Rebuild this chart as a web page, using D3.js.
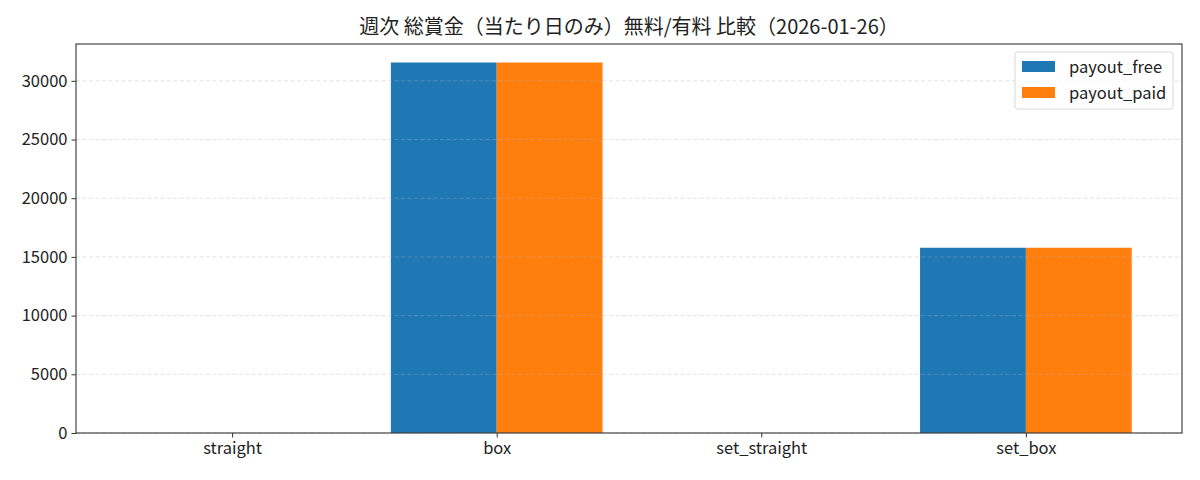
<!DOCTYPE html>
<html><head><meta charset="utf-8">
<script src="https://cdn.jsdelivr.net/npm/d3@7"></script>
<style>body{margin:0;background:#fff;} svg{display:block;font-family:"Noto Sans CJK JP","Noto Sans",sans-serif;}</style>
</head><body><div id="chart"></div>
<script>
const title = "週次 総賞金（当たり日のみ）無料/有料 比較（2026-01-26）";
const categories = ["straight","box","set_straight","set_box"];
const seriesNames = ["payout_free","payout_paid"];
const payoutFree = [0, 31560, 0, 15780];
const payoutPaid = [0, 31560, 0, 15780];
const yTicks = [0,5000,10000,15000,20000,25000,30000];
const colors = ["#1f77b4","#ff7f0e"];

const W=1200,H=480;
const m={left:76,right:1182,top:44,bottom:433};
const svg=d3.select("#chart").append("svg").attr("width",W).attr("height",H);
const series=[payoutFree,payoutPaid];
const maxV=d3.max(series.flat());
const x=d3.scaleLinear().domain([-0.59,categories.length-1+0.59]).range([m.left,m.right]);
const y=d3.scaleLinear().domain([0,maxV*1.05]).range([m.bottom,m.top]);
const bw=0.4;

// bars
series.forEach((s,si)=>{
  svg.append("g").selectAll("rect").data(s).join("rect")
    .attr("x",(d,i)=>x(i-bw+si*bw))
    .attr("width",x(bw)-x(0))
    .attr("y",d=>y(d))
    .attr("height",d=>y(0)-y(d))
    .attr("fill",colors[si]);
});
// grid
svg.append("g").selectAll("line").data(yTicks).join("line")
  .attr("x1",m.left).attr("x2",m.right).attr("y1",d=>y(d)).attr("y2",d=>y(d))
  .attr("stroke","#b0b0b0").attr("stroke-opacity",0.4).attr("stroke-dasharray","4,2.5").attr("stroke-width",0.9);

// axes
const ya=svg.append("g").attr("transform",`translate(${m.left},0)`)
  .call(d3.axisLeft(y).tickValues(yTicks).tickFormat(d3.format("d")).tickSize(4.5).tickPadding(4));
const xa=svg.append("g").attr("transform",`translate(0,${m.bottom})`)
  .call(d3.axisBottom(x).tickValues(d3.range(categories.length)).tickFormat(i=>categories[i]).tickSize(4.5).tickPadding(5));
[ya,xa].forEach(a=>{a.select(".domain").remove();a.selectAll("text").attr("font-size",16.5).attr("fill","#222").attr("font-family",'"Noto Sans CJK JP","Noto Sans",sans-serif');a.selectAll("line").attr("stroke","#333");});
svg.append("rect").attr("x",m.left).attr("y",m.top).attr("width",m.right-m.left).attr("height",m.bottom-m.top)
  .attr("fill","none").attr("stroke","#333").attr("stroke-width",1.1);

// title
svg.append("text").attr("x",(m.left+m.right)/2).attr("y",34).attr("text-anchor","middle")
  .attr("font-size",20).attr("fill","#222").text(title);

// legend
const lg=svg.append("g");
lg.append("rect").attr("x",1015).attr("y",52).attr("width",158).attr("height",57).attr("rx",3)
  .attr("fill","#fff").attr("fill-opacity",0.8).attr("stroke","#d8d8d8");
seriesNames.forEach((n,i)=>{
  lg.append("rect").attr("x",1022).attr("y",61+i*26).attr("width",33).attr("height",11).attr("fill",colors[i]);
  lg.append("text").attr("x",1069).attr("y",72.5+i*26).attr("font-size",16.5).attr("fill","#222").text(n);
});
</script></body></html>
